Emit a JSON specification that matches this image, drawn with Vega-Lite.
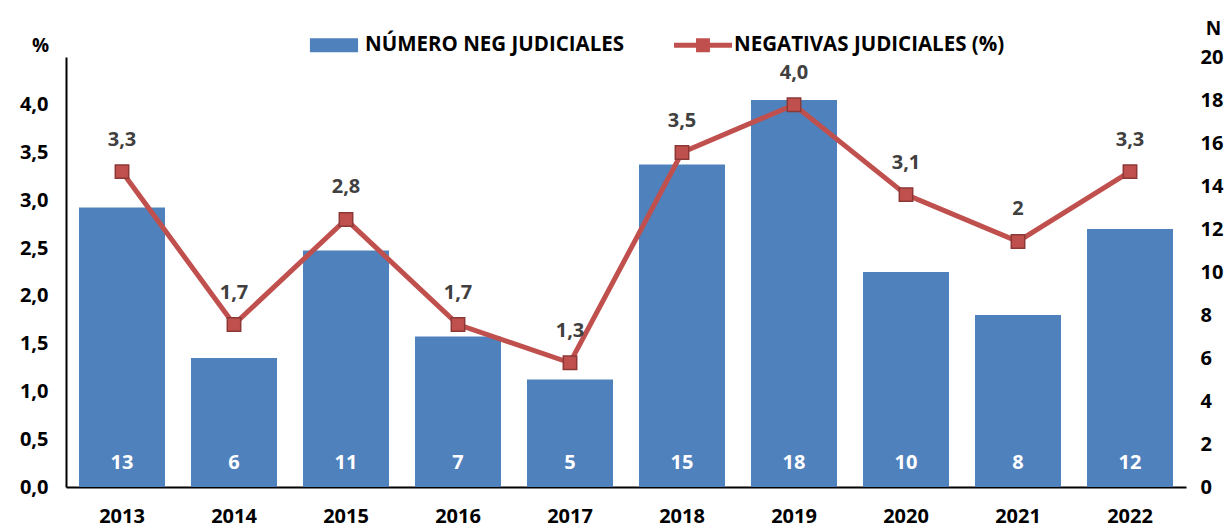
{
  "$schema": "https://vega.github.io/schema/vega-lite/v6.json",
  "width": 1120,
  "height": 430,
  "autosize": {"type": "none"},
  "padding": {"left": 66, "top": 57, "right": 42, "bottom": 42},
  "background": "white",
  "config": {
    "view": {"stroke": null},
    "font": "Open Sans",
    "axis": {"labelFont": "Open Sans", "labelFontWeight": "bold", "labelFontSize": 20, "labelColor": "#000000", "titleFont": "Open Sans", "titleFontWeight": "bold", "titleFontSize": 19, "titleColor": "#000000", "grid": false, "ticks": false}
  },
  "data": {
    "values": [
      {"year": "2013", "n": 13, "pct": 3.3, "pctLabel": "3,3"},
      {"year": "2014", "n": 6, "pct": 1.7, "pctLabel": "1,7"},
      {"year": "2015", "n": 11, "pct": 2.8, "pctLabel": "2,8"},
      {"year": "2016", "n": 7, "pct": 1.7, "pctLabel": "1,7"},
      {"year": "2017", "n": 5, "pct": 1.3, "pctLabel": "1,3"},
      {"year": "2018", "n": 15, "pct": 3.5, "pctLabel": "3,5"},
      {"year": "2019", "n": 18, "pct": 4.0, "pctLabel": "4,0"},
      {"year": "2020", "n": 10, "pct": 3.06, "pctLabel": "3,1"},
      {"year": "2021", "n": 8, "pct": 2.57, "pctLabel": "2"},
      {"year": "2022", "n": 12, "pct": 3.3, "pctLabel": "3,3"}
    ]
  },
  "encoding": {
    "x": {
      "field": "year", "type": "nominal",
      "scale": {"paddingInner": 0.232, "paddingOuter": 0.116},
      "axis": {"title": null, "labelAngle": 0, "domainColor": "#000000", "domainWidth": 2, "labelPadding": 19}
    }
  },
  "layer": [
    {
      "layer": [
        {
          "mark": {"type": "bar", "color": "#4F81BD"},
          "encoding": {
            "y": {"field": "n", "type": "quantitative", "scale": {"domain": [0, 20]},
              "axis": {"orient": "right", "title": "N", "titleAngle": 0, "titleX": 27, "titleY": -29, "titleAlign": "center", "titleBaseline": "middle", "domain": false, "values": [0,2,4,6,8,10,12,14,16,18,20], "labelPadding": 14}},
            "color": {"datum": "NÚMERO NEG JUDICIALES", "type": "nominal",
              "scale": {"domain": ["NÚMERO NEG JUDICIALES", "NEGATIVAS JUDICIALES (%)"], "range": ["#4F81BD", "#C0504D"]},
              "legend": {
                "title": null, "orient": "none", "legendX": 239, "legendY": -41, "direction": "horizontal",
                "labelFont": "Open Sans", "labelFontWeight": "bold", "labelFontSize": 20.5, "labelColor": "#000000",
                "symbolSize": 3364, "labelOffset": 2, "columnPadding": 49, "labelLimit": 400,
                "encode": {
                  "symbols": {"update": {
                    "shape": {"signal": "datum.value === 'NÚMERO NEG JUDICIALES' ? 'M-0.83,-0.24H0.83V0.24H-0.83Z' : 'M-1,-0.086H-0.24V-0.24H0.24V-0.086H1V0.086H0.24V0.24H-0.24V0.086H-1Z'"},
                    "fill": {"scale": "color", "field": "value"},
                    "stroke": {"value": "transparent"},
                    "strokeWidth": {"value": 0},
                    "opacity": {"value": 1}
                  }}
                }
              }}
          }
        },
        {
          "mark": {"type": "text", "color": "#FFFFFF", "fontWeight": "bold", "fontSize": 20, "font": "Open Sans", "baseline": "middle", "dy": -24},
          "encoding": {
            "y": {"datum": 0, "type": "quantitative"},
            "text": {"field": "n", "type": "quantitative"}
          }
        }
      ]
    },
    {
      "layer": [
        {
          "mark": {"type": "line", "color": "#C0504D", "strokeWidth": 5},
          "encoding": {
            "y": {"field": "pct", "type": "quantitative", "scale": {"domain": [0, 4.5]},
              "axis": {"orient": "left", "title": "%", "titleAngle": 0, "titleX": -26, "titleY": -12, "titleAlign": "center", "titleBaseline": "middle",
                "values": [0, 0.5, 1, 1.5, 2, 2.5, 3, 3.5, 4], "labelExpr": "replace(format(datum.value, '.1f'), '.', ',')",
                "domainColor": "#000000", "domainWidth": 2, "labelPadding": 18}},
            "color": {"datum": "NEGATIVAS JUDICIALES (%)", "type": "nominal"}
          }
        },
        {
          "mark": {"type": "point", "shape": "square", "filled": true, "size": 180, "fill": "#C0504D", "stroke": "#8C3836", "strokeWidth": 1.5, "opacity": 1},
          "encoding": {
            "y": {"field": "pct", "type": "quantitative"}
          }
        },
        {
          "mark": {"type": "text", "color": "#404040", "fontWeight": "bold", "fontSize": 20, "font": "Open Sans", "baseline": "middle", "dy": -32},
          "encoding": {
            "y": {"field": "pct", "type": "quantitative"},
            "text": {"field": "pctLabel", "type": "nominal"}
          }
        }
      ]
    }
  ],
  "resolve": {"scale": {"y": "independent"}}
}
